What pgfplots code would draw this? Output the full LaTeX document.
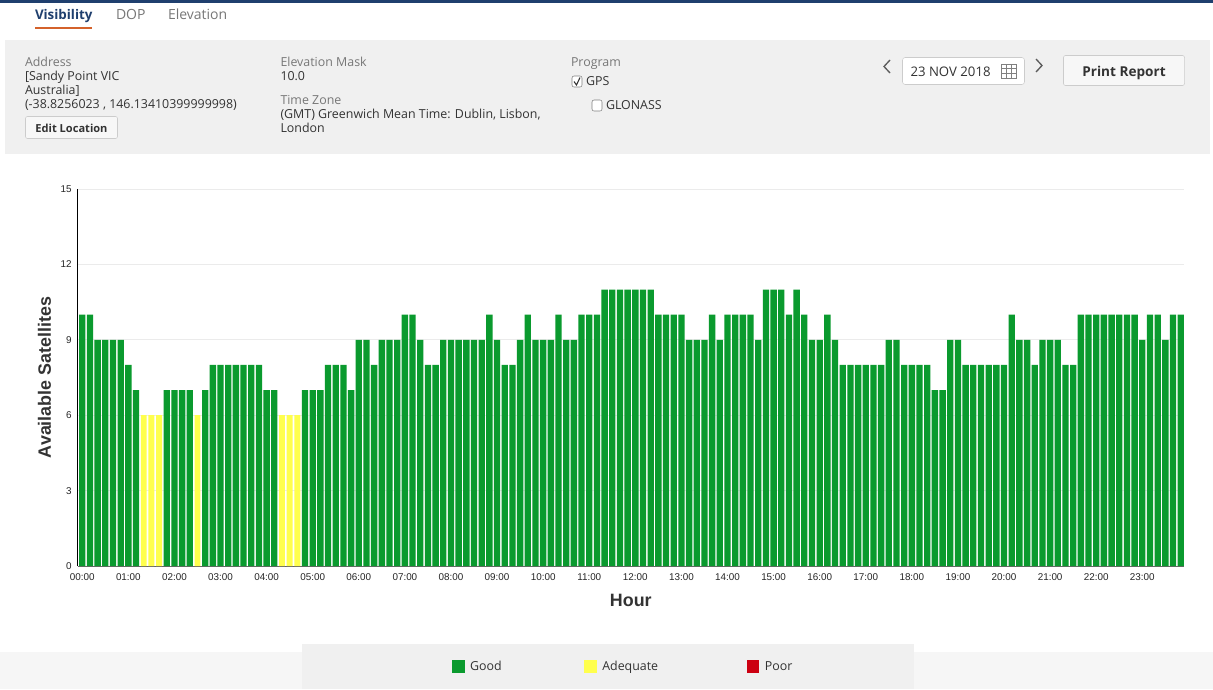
\documentclass[border=0pt]{standalone}
\usepackage{pgfplots}
\pgfplotsset{compat=1.18}
\usepackage{pgfplotstable}
\usepackage{fontspec}
\setmainfont{Open Sans}
\newfontfamily\arial{Liberation Sans}
\definecolor{good}{HTML}{0A9A2E}
\definecolor{adequate}{HTML}{FFFF4D}
\definecolor{poor}{HTML}{CC0011}
\definecolor{panel}{HTML}{F0F0F0}
\definecolor{navy}{HTML}{1F3F6E}
\definecolor{labelgrey}{HTML}{777777}
\definecolor{ink}{HTML}{333333}
\definecolor{rust}{HTML}{D4622B}
\definecolor{btnline}{HTML}{CCCCCC}
\pgfplotstableread{
x y
0 10
1 10
2 9
3 9
4 9
5 9
6 8
7 7
11 7
12 7
13 7
14 7
16 7
17 8
18 8
19 8
20 8
21 8
22 8
23 8
24 7
25 7
29 7
30 7
31 7
32 8
33 8
34 8
35 7
36 9
37 9
38 8
39 9
40 9
41 9
42 10
43 10
44 9
45 8
46 8
47 9
48 9
49 9
50 9
51 9
52 9
53 10
54 9
55 8
56 8
57 9
58 10
59 9
60 9
61 9
62 10
63 9
64 9
65 10
66 10
67 10
68 11
69 11
70 11
71 11
72 11
73 11
74 11
75 10
76 10
77 10
78 10
79 9
80 9
81 9
82 10
83 9
84 10
85 10
86 10
87 10
88 9
89 11
90 11
91 11
92 10
93 11
94 10
95 9
96 9
97 10
98 9
99 8
100 8
101 8
102 8
103 8
104 8
105 9
106 9
107 8
108 8
109 8
110 8
111 7
112 7
113 9
114 9
115 8
116 8
117 8
118 8
119 8
120 8
121 10
122 9
123 9
124 8
125 9
126 9
127 9
128 8
129 8
130 10
131 10
132 10
133 10
134 10
135 10
136 10
137 10
138 9
139 10
140 10
141 9
142 10
143 10
}\goodtable
\pgfplotstableread{
x y
8 6
9 6
10 6
15 6
26 6
27 6
28 6
}\adequatetable
\begin{document}
\begin{tikzpicture}[x=0.75pt,y=-0.75pt,every node/.style={inner sep=0pt,outer sep=0pt}]
\useasboundingbox (0,0) rectangle (1213,689);
\path[fill=white] (0,0) rectangle (1213,689);
% top bar and tabs
\path[fill=navy] (0,0) rectangle (1213,3);
\node[anchor=base west,font=\fontsize{10pt}{12pt}\selectfont\bfseries,text=navy] at (35,19) {Visibility};
\node[anchor=base west,font=\fontsize{10.5pt}{12pt}\selectfont,text=labelgrey] at (116,19) {DOP};
\node[anchor=base west,font=\fontsize{10.5pt}{12pt}\selectfont,text=labelgrey] at (168,19) {Elevation};
\path[fill=rust] (35,27) rectangle (92,29);
% panel
\path[fill=panel] (5,40) rectangle (1210,154);
\begin{scope}[font=\fontsize{9.3pt}{10pt}\selectfont]
\node[anchor=base west,text=labelgrey] at (25,66) {Address};
\node[anchor=base west,text=ink] at (25,80) {[Sandy Point VIC};
\node[anchor=base west,text=ink] at (25,94) {Australia]};
\node[anchor=base west,text=ink] at (25,108) {(-38.8256023 , 146.13410399999998)};
\node[anchor=base west,text=labelgrey] at (280.5,66) {Elevation Mask};
\node[anchor=base west,text=ink] at (280.5,80) {10.0};
\node[anchor=base west,text=labelgrey] at (280.5,104) {Time Zone};
\node[anchor=base west,text=ink] at (280.5,118) {(GMT) Greenwich Mean Time: Dublin, Lisbon,};
\node[anchor=base west,text=ink] at (280.5,132) {London};
\node[anchor=base west,text=labelgrey] at (571,66) {Program};
\node[anchor=base west,text=ink] at (586,85) {GPS};
\node[anchor=base west,text=ink] at (606,109) {GLONASS};
\end{scope}
\path[draw=btnline,fill=white!97!black,rounded corners=1.5pt] (25.5,116.5) rectangle (117.5,138.5);
\node[anchor=base,font=\fontsize{8.3pt}{10pt}\selectfont\bfseries,text=ink] at (71.5,132) {Edit Location};
\path[draw=gray,fill=white,rounded corners=1.5pt] (572,76) rectangle (582,87);
\draw[ink,line width=0.8pt] (574,81.5) -- (576.5,85) -- (580,77.5);
\path[draw=gray,fill=white,rounded corners=1.5pt] (592,100) rectangle (602,111);
% date
\draw[ink!80,line width=1pt] (890,60) -- (884,66.5) -- (890,73);
\draw[ink!80,line width=1pt] (1036,59) -- (1042,65.5) -- (1036,72);
\path[draw=btnline,fill=white,rounded corners=2pt] (902.5,57.5) rectangle (1024.5,84.5);
\node[anchor=base west,font=\fontsize{9.9pt}{10pt}\selectfont,text=ink] at (910.5,76) {23 NOV 2018};
\draw[gray,line width=0.5pt] (1001,64) rectangle (1016,78)
  (1006,64) -- (1006,78) (1011,64) -- (1011,78)
  (1001,68.7) -- (1016,68.7) (1001,73.3) -- (1016,73.3);
\path[draw=btnline,fill=white!97!black,rounded corners=1.5pt] (1063.5,55.5) rectangle (1184.5,85.5);
\node[anchor=base,font=\fontsize{10.2pt}{12pt}\selectfont\bfseries,text=ink] at (1124,76) {Print Report};
% bottom strip
\path[fill=panel!60!white] (0,652) rectangle (1213,689);
\path[fill=panel] (302,644) rectangle (914,689);
% chart
\begin{axis}[
  at={(58.125pt,-424.5pt)},anchor=south west,
  scale only axis,
  width=830pt,height=282.75pt,
  xmin=-0.62,xmax=143.45,ymin=0,ymax=15,
  ybar,bar shift=0pt,bar width=4.75pt,
  axis y line*=left,
  axis x line*=bottom,
  axis line style={black,line width=0.9pt,-},
  x axis line style={draw=black!60,line width=0.5pt},
  ytick={0,3,...,15},
  xtick={0,6,...,138},
  xticklabels={00:00,01:00,02:00,03:00,04:00,05:00,06:00,07:00,08:00,09:00,10:00,11:00,12:00,13:00,14:00,15:00,16:00,17:00,18:00,19:00,20:00,21:00,22:00,23:00},
  major tick length=0pt,
  ymajorgrids,
  grid style={draw=black!8,line width=0.5pt},
  /pgf/number format/assume math mode=true,
  tick label style={font=\arial\fontsize{7.4pt}{8pt}\selectfont,text=black!85},
  yticklabel style={xshift=-4.5pt},
  xticklabel style={yshift=-5.5pt},
  xlabel={Hour},
  ylabel={Available Satellites},
  label style={font=\arial\fontsize{13.4pt}{15pt}\selectfont\bfseries,text=ink},
  xlabel style={at={(axis description cs:0.5,0)},anchor=base,yshift=-30.5pt},
  ylabel style={at={(axis description cs:0,0.5)},anchor=base,yshift=20pt},
  legend cell align=left,
  legend columns=3,
  legend style={at={(0.4934,-0.268)},anchor=center,draw=none,fill=none,
    font=\fontsize{9.3pt}{11pt}\selectfont,text=ink,
    inner sep=0pt,nodes={inner sep=2pt},
    /tikz/column 1/.style={column sep=2pt},
    /tikz/column 3/.style={column sep=2pt},
    /tikz/column 5/.style={column sep=2pt},
    /tikz/column 2/.style={column sep=60pt},
    /tikz/column 4/.style={column sep=64.5pt}},
  legend image code/.code={\path[#1,draw=none] (0pt,-4.5pt) rectangle (9.5pt,5pt);},
]
\addplot[fill=good,draw=none] table[x=x,y=y] {\goodtable};
\addplot[fill=adequate,draw=none,bar width=4.4pt] table[x=x,y=y] {\adequatetable};
\addlegendentry{Good}
\addlegendentry{Adequate}
\addlegendimage{fill=poor,draw=none}
\addlegendentry{Poor}
\end{axis}
\end{tikzpicture}
\end{document}
